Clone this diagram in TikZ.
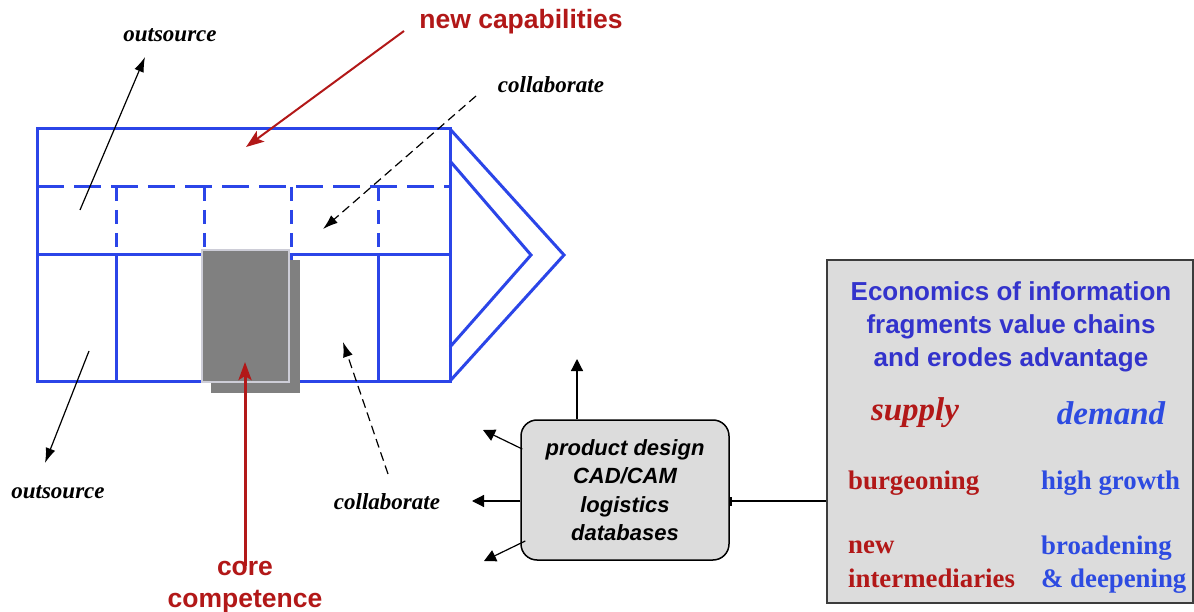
\documentclass[tikz,border=0pt]{standalone}
\usepackage{fontspec}
\setmainfont{Liberation Serif}
\setsansfont{Liberation Sans}
\usetikzlibrary{arrows.meta,calc}
\definecolor{gridblue}{RGB}{43,69,232}
\definecolor{titleblue}{RGB}{51,51,204}
\definecolor{dblue}{RGB}{45,75,225}
\definecolor{dred}{RGB}{178,24,24}
\definecolor{boxgray}{RGB}{220,220,220}
\definecolor{coregray}{RGB}{128,128,128}
\definecolor{coreedge}{RGB}{205,205,215}
\definecolor{edgegray}{RGB}{60,60,60}
\tikzset{
  bl/.style={draw=gridblue, line width=3pt},
  hdash/.style={dash pattern=on 27pt off 10pt},
  vdash/.style={dash pattern=on 14pt off 9pt},
  blk/.style={draw=black, line width=1.2pt, -{Latex[length=15pt,width=10pt]}},
  blkdash/.style={blk, dash pattern=on 9pt off 5pt},
  redarr/.style={draw=dred, line width=2pt, -{Stealth[length=18pt,width=13pt,inset=4pt]}},
  tri/.style={draw=black, line width=1.2pt, -{Triangle[length=12pt,width=12pt]}},
  lbl/.style={font=\fontsize{23}{23}\selectfont\bfseries\itshape},
  redlbl/.style={text=dred, font=\fontsize{26.5}{32}\selectfont\sffamily\bfseries, align=center},
}
\begin{document}
\begin{tikzpicture}[x=1pt,y=-1pt]
\useasboundingbox (0,0) rectangle (1194,612);
% value chain grid
\draw[bl] (37,129) rectangle (450,381);
\draw[bl,hdash] (37,187) -- (450,187);
\draw[bl] (37,255) -- (450,255);
\foreach \x in {116,204,291,378}{
  \draw[bl] (\x,255) -- (\x,381);
  \draw[bl,vdash] (\x,187) -- (\x,255);
}
\draw[bl] (450,129) -- (564,255) -- (450,381);
\draw[bl] (450,161) -- (531,255) -- (450,347);
% core competence block
\fill[coregray] (211,260) rectangle (300,393);
\draw[fill=coregray, draw=coreedge, line width=1.5pt] (202,250) rectangle (289,382);
% labels
\node[lbl] (out1) at (170,35) {outsource};
\node[lbl] (col1) at (551,85) {collaborate};
\node[lbl] (out2) at (58,492) {outsource};
\node[lbl] (col2) at (387,502) {collaborate};
\node[redlbl] (newcap) at (521,22) {new capabilities};
\node[redlbl] (core) at (245,587) {core\\competence};
% arrows
\coordinate (o1s) at (80,210); \coordinate (o1e) at (145,57);
\draw[blk] (o1s) -- (o1e);
\coordinate (ncs) at (404,31); \coordinate (nce) at (246,147);
\draw[redarr] (ncs) -- (nce);
\coordinate (c1s) at (476,96); \coordinate (c1e) at (323,229);
\draw[blkdash] (c1s) -- (c1e);
\coordinate (o2s) at (89,351); \coordinate (o2e) at (45,463);
\draw[blk] (o2s) -- (o2e);
\coordinate (c2s) at (388,474); \coordinate (c2e) at (343,342);
\draw[blkdash] (c2s) -- (c2e);
\coordinate (cce) at (245,362);
\draw[redarr, line width=3pt] ($(core.north)+(0,8)$) -- (cce);
% product design box
\node[draw=black, line width=1.5pt, fill=boxgray, rounded corners=16pt,
      minimum width=208pt, minimum height=140pt, align=center,
      font=\fontsize{22}{28.5}\selectfont\sffamily\bfseries\itshape] (pd) at (625,490)
  {product design\\CAD/CAM\\logistics\\databases};
\coordinate (pu) at (577,359);
\coordinate (pul) at (483,430);
\coordinate (pl) at (472,501);
\coordinate (pll) at (484,561);
\draw[tri] (pd.north -| pu) -- (pu);
\draw[tri] ($(pd.west)+(2,-41)$) -- (pul);
\draw[tri] ($(pd.west)+(0,11)$) -- (pl);
\draw[tri] ($(pd.west)+(5,51)$) -- (pll);
% economics box
\node[draw=edgegray, line width=1.5pt, fill=boxgray, minimum width=366pt, minimum height=343pt] (eco) at (1010,431.5) {};
\node[text=titleblue, font=\fontsize{26}{33}\selectfont\sffamily\bfseries, align=center] (title) at (1011,327)
  {Economics of information\\fragments value chains\\and erodes advantage};
\node[text=dred, font=\fontsize{33}{33}\selectfont\bfseries\itshape] (supply) at (915,413) {supply};
\node[text=dblue, font=\fontsize{33}{33}\selectfont\bfseries\itshape] (demand) at (1111,413) {demand};
\node[text=dred, font=\fontsize{26.8}{33.5}\selectfont\bfseries, anchor=west, inner sep=0pt] (burg) at (848,483) {burgeoning};
\node[text=dblue, font=\fontsize{26.8}{33.5}\selectfont\bfseries, anchor=west, inner sep=0pt] (high) at (1041,483) {high growth};
\node[text=dred, font=\fontsize{26.8}{33.5}\selectfont\bfseries, anchor=west, inner sep=0pt, align=left] (inter) at (848,564.5) {new\\intermediaries};
\node[text=dblue, font=\fontsize{26.8}{33.5}\selectfont\bfseries, anchor=west, inner sep=0pt, align=left] (broad) at (1041,564.5) {broadening\\\& deepening};
% connector
\coordinate (pe) at ($(pd.east)+(0,11)$);
\draw[line width=1.2pt, {Bar[width=9pt,line width=2pt]}-] (pe) -- (pe -| eco.west);
\end{tikzpicture}
\end{document}
